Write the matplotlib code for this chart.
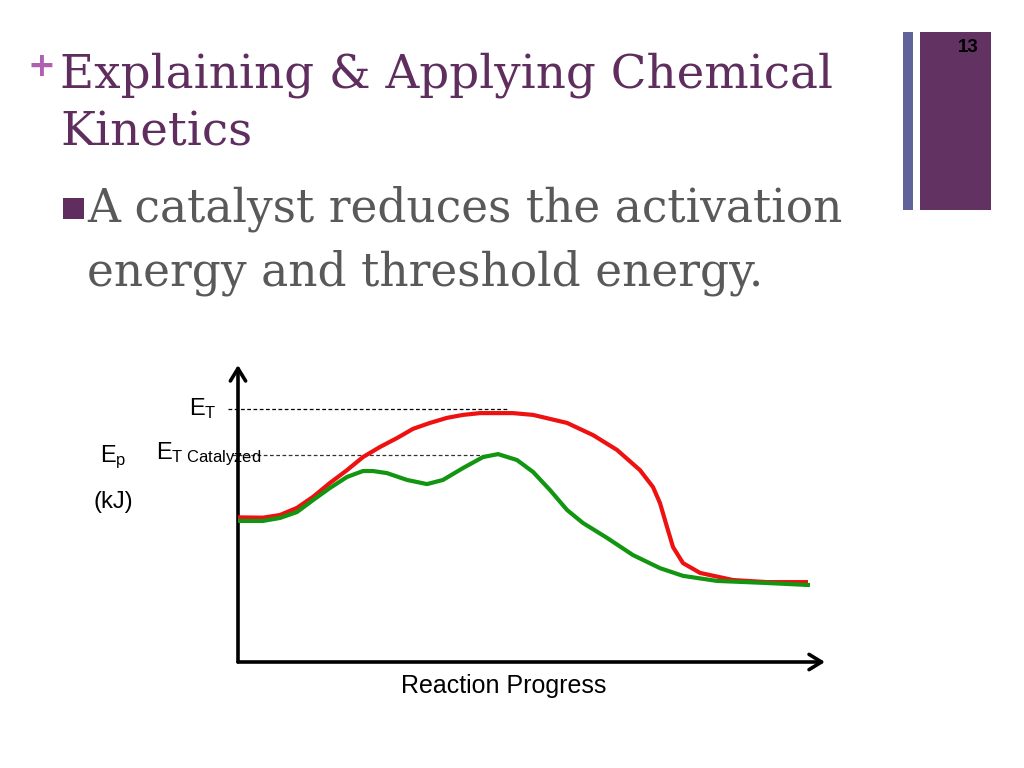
import matplotlib
matplotlib.use("Agg")
from matplotlib import pyplot as plt

plt.rcParams['mathtext.fontset'] = 'custom'
plt.rcParams['mathtext.rm'] = 'Liberation Sans'
plt.rcParams['mathtext.it'] = 'Liberation Sans'

# slide text
title_lines = ["Explaining & Applying Chemical", "Kinetics"]
bullet_lines = ["A catalyst reduces the activation", "energy and threshold energy."]
slide_number = "13"
x_label = "Reaction Progress"

# reaction progress (0-100) vs potential energy (0-100, arbitrary)
red_x = [0, 4.26, 7.16, 10.05, 12.78, 15.67, 18.57, 21.29, 24.19, 27.09, 29.81, 32.71,
         35.60, 38.33, 41.23, 44.12, 46.85, 50.26, 56.05, 60.48, 64.57, 68.48, 70.70,
         71.89, 73.08, 74.11, 75.81, 78.71, 84.33, 90.12, 97.10]
red_y = [48.7, 48.6, 49.5, 51.9, 55.6, 60.3, 64.6, 69.0, 72.4, 75.4, 78.5, 80.5,
         82.2, 83.2, 83.8, 83.8, 83.8, 83.2, 80.5, 76.4, 71.4, 64.6, 58.9,
         53.5, 45.5, 38.7, 33.3, 30.0, 27.6, 26.9, 26.9]
green_x = [0, 4.26, 7.16, 10.05, 12.78, 15.67, 18.57, 21.29, 23.0, 25.38, 28.79, 32.2,
           34.92, 38.33, 41.74, 44.29, 47.53, 50.26, 53.15, 56.05, 58.77, 62.86, 67.29,
           71.89, 75.81, 81.6, 90.12, 97.44]
green_y = [47.5, 47.5, 48.5, 50.5, 54.5, 58.6, 62.3, 64.3, 64.3, 63.6, 61.3, 59.9,
           61.3, 65.3, 69.0, 70.0, 68.0, 64.0, 57.9, 51.2, 46.8, 41.8, 36.0,
           31.6, 29.0, 27.3, 26.6, 25.9]
et_level = 85.2
et_cat_level = 69.6

PURPLE = "#5f2e5f"
GREY = "#595959"

fig = plt.figure(figsize=(10.24, 7.68), dpi=100, facecolor="white")

# background layer in pixel coordinates
bg = fig.add_axes([0, 0, 1, 1])
bg.set_xlim(0, 1024)
bg.set_ylim(768, 0)
bg.axis("off")

bg.add_patch(plt.Rectangle((903, 32), 10, 178, color="#62629a", lw=0))
bg.add_patch(plt.Rectangle((920, 32), 71, 178, color="#623262", lw=0))
bg.text(968, 47, slide_number, ha="center", va="center", fontsize=13.5,
        fontweight="bold", family="Liberation Sans", color="black")

bg.text(41, 66, "+", ha="center", va="center", fontsize=24, fontweight="bold",
        color="#b060b0", family="DejaVu Sans")
bg.text(60, 88, title_lines[0], fontsize=33.7, color=PURPLE, family="DejaVu Serif")
bg.text(60, 146, title_lines[1], fontsize=33.7, color=PURPLE, family="DejaVu Serif")

bg.add_patch(plt.Rectangle((63, 198), 21, 21, color=PURPLE, lw=0))
bg.text(87, 222, bullet_lines[0], fontsize=32.8, color=GREY, family="DejaVu Serif")
bg.text(87, 285, bullet_lines[1], fontsize=32.8, color=GREY, family="DejaVu Serif")

bg.text(504, 686, x_label, ha="center", va="center", fontsize=18,
        family="Liberation Sans", color="black")

# energy diagram
ax = fig.add_axes([238 / 1024, 106 / 768, 587 / 1024, 297 / 768])
ax.set_xlim(0, 100)
ax.set_ylim(0, 100)
ax.axis("off")

arrow = dict(arrowstyle="->,head_length=0.9,head_width=0.55",
             lw=2.6, color="black", shrinkA=0, shrinkB=0)
ax.annotate("", xy=(0, 1.0), xytext=(0, 0), xycoords="axes fraction", arrowprops=arrow)
ax.annotate("", xy=(1.0, 0), xytext=(0, 0), xycoords="axes fraction", arrowprops=arrow)

ax.plot([-1.7, 45.8], [et_level, et_level], ls=(0, (3, 2)), lw=0.9, color="black",
        clip_on=False)
ax.plot([-1.0, 44.1], [et_cat_level, et_cat_level], ls=(0, (3, 2)), lw=0.9,
        color="#333333", clip_on=False)

ax.plot(red_x, red_y, color="#ee1111", lw=3, solid_joinstyle="round",
        solid_capstyle="butt", zorder=3)
ax.plot(green_x, green_y, color="#129612", lw=3, solid_joinstyle="round",
        solid_capstyle="butt", zorder=4)

ax.text(-8.3, et_level, r"$\mathrm{E}_{\mathrm{T}}$", fontsize=17, va="center",
        ha="left", clip_on=False)
ax.text(-13.9, et_cat_level + 0.3, r"$\mathrm{E}_{\mathrm{T\ Catalyzed}}$", fontsize=17,
        va="center", ha="left", clip_on=False)
ax.text(-23.5, et_cat_level - 0.7, r"$\mathrm{E}_{\mathrm{p}}$", fontsize=17,
        va="center", ha="left", clip_on=False)
ax.text(-24.7, 54, "(kJ)", fontsize=17, va="center", ha="left",
        family="Liberation Sans", clip_on=False)

fig.savefig("out.png", dpi=100, facecolor="white")
